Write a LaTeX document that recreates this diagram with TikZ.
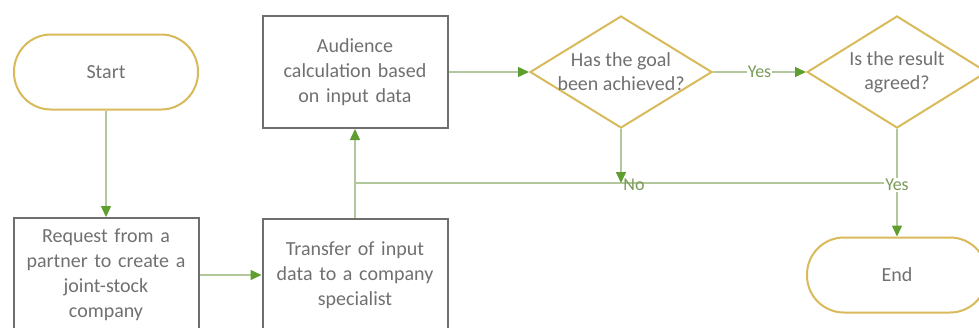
\documentclass[tikz,border=0pt]{standalone}
\usepackage{fontspec}
\setmainfont{Carlito}
\usetikzlibrary{shapes.geometric,arrows.meta}

\definecolor{boxgray}{HTML}{6E6E6E}
\definecolor{txtgray}{HTML}{707070}
\definecolor{gold}{HTML}{D9BA5A}
\definecolor{linegreen}{HTML}{B2C79C}
\definecolor{tipgreen}{HTML}{5E9E2E}
\definecolor{lblgreen}{HTML}{7A9A5A}

\tikzset{
  terminal/.style={draw=gold, line width=2pt, rounded corners=37pt,
    minimum width=184pt, minimum height=75pt, text=txtgray, font=\fontsize{20}{25}\selectfont},
  process/.style={draw=boxgray, line width=2pt, minimum width=185pt,
    text width=178pt, align=center, text=txtgray, font=\fontsize{20}{25}\selectfont},
  decision/.style={draw=gold, line width=2pt, diamond, aspect=1.62, inner sep=-3pt,
    minimum width=182pt, minimum height=112pt, align=center, text=txtgray,
    font=\fontsize{20}{24}\selectfont},
  flow/.style={draw=linegreen, line width=1.5pt,
    -{Triangle[length=11pt,width=10pt,color=tipgreen]}},
  plain/.style={draw=linegreen, line width=1.5pt},
  answer/.style={text=lblgreen, fill=white, inner sep=1pt, font=\fontsize{18}{20}\selectfont},
}

\begin{document}
\begin{tikzpicture}[x=1pt,y=-1pt]
  \useasboundingbox (0,0) rectangle (979,327);

  \node [terminal] (start) at (106,72) {Start};
  \node [process, minimum height=114pt] (request) at (106,275)
    {Request from a\\ partner to create a\\ joint-stock\\ company};
  \node [process, minimum height=112pt] (transfer) at (355,275)
    {Transfer of input\\ data to a company\\ specialist};
  \node [process, minimum height=112pt] (audience) at (355,72)
    {Audience\\ calculation based\\ on input data};
  \node [decision] (goal) at (621,72) {Has the goal\\ been achieved?};
  \node [decision, minimum width=180pt] (agreed) at (897,72) {Is the result\\ agreed?};
  \node [terminal, minimum width=180pt] (end) at (897,275) {End};

  \coordinate (join) at (355,183);

  % main flow
  \draw [flow] (start) -- (request);
  \draw [flow] (request) -- (transfer);
  \draw [flow] (transfer) -- (audience);
  \draw [flow] (audience) -- (goal);
  \draw [flow] (goal) -- node [answer] {Yes} (agreed);

  % return loop
  \draw [plain] (agreed.south |- join) -- (join);
  \draw [flow] (goal.south) -- (goal.south |- join);
  \node [answer, fill=none] (no) at (634,185) {No};
  \draw [flow] (agreed) -- (end);
  \node [answer] (yes) at (897,185) {Yes};
\end{tikzpicture}
\end{document}
